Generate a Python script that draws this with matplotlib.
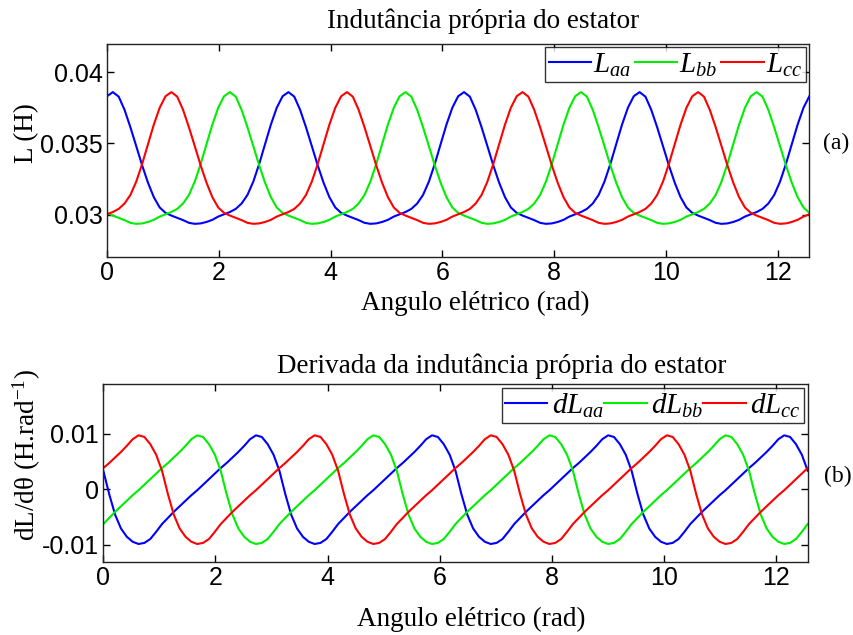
import numpy as np
import matplotlib
matplotlib.use("Agg")
import matplotlib.pyplot as plt

plt.rcParams['font.family'] = ['Liberation Sans', 'DejaVu Sans']
plt.rcParams['mathtext.fontset'] = 'custom'
plt.rcParams['mathtext.rm'] = 'Liberation Serif'
plt.rcParams['mathtext.it'] = 'Liberation Serif:italic'

# electrical angle samples, 30 per half turn (pi), over 0..4*pi
theta = np.linspace(0, 4 * np.pi, 121)

# self inductances (H)
L_aa = [.03831,
        .03860, .03828, .03735, .03613, .03480, .03346, .03224, .03122, .03050, .03012, .02993, .02977, .02961, .02942, .02935,
        .02938, .02948, .02963, .02986, .03002, .03018, .03040, .03078, .03138, .03232, .03355, .03494, .03632, .03750, .03831,
        .03860, .03828, .03735, .03613, .03480, .03346, .03224, .03122, .03050, .03012, .02993, .02977, .02961, .02942, .02935,
        .02938, .02948, .02963, .02986, .03002, .03018, .03040, .03078, .03138, .03232, .03355, .03494, .03632, .03750, .03831,
        .03860, .03828, .03735, .03613, .03480, .03346, .03224, .03122, .03050, .03012, .02993, .02977, .02961, .02942, .02935,
        .02938, .02948, .02963, .02986, .03002, .03018, .03040, .03078, .03138, .03232, .03355, .03494, .03632, .03750, .03831,
        .03860, .03828, .03735, .03613, .03480, .03346, .03224, .03122, .03050, .03012, .02993, .02977, .02961, .02942, .02935,
        .02938, .02948, .02963, .02986, .03002, .03018, .03040, .03078, .03138, .03232, .03355, .03494, .03632, .03750, .03831]

L_bb = [.03012, .02993, .02977, .02961, .02942, .02935,
        .02938, .02948, .02963, .02986, .03002, .03018, .03040, .03078, .03138, .03232, .03355, .03494, .03632, .03750, .03831,
        .03860, .03828, .03735, .03613, .03480, .03346, .03224, .03122, .03050, .03012, .02993, .02977, .02961, .02942, .02935,
        .02938, .02948, .02963, .02986, .03002, .03018, .03040, .03078, .03138, .03232, .03355, .03494, .03632, .03750, .03831,
        .03860, .03828, .03735, .03613, .03480, .03346, .03224, .03122, .03050, .03012, .02993, .02977, .02961, .02942, .02935,
        .02938, .02948, .02963, .02986, .03002, .03018, .03040, .03078, .03138, .03232, .03355, .03494, .03632, .03750, .03831,
        .03860, .03828, .03735, .03613, .03480, .03346, .03224, .03122, .03050, .03012, .02993, .02977, .02961, .02942, .02935,
        .02938, .02948, .02963, .02986, .03002, .03018, .03040, .03078, .03138, .03232, .03355, .03494, .03632, .03750, .03831,
        .03860, .03828, .03735, .03613, .03480, .03346, .03224, .03122, .03050, .03012]

L_cc = [.03002, .03018, .03040, .03078, .03138, .03232, .03355, .03494, .03632, .03750, .03831,
        .03860, .03828, .03735, .03613, .03480, .03346, .03224, .03122, .03050, .03012, .02993, .02977, .02961, .02942, .02935,
        .02938, .02948, .02963, .02986, .03002, .03018, .03040, .03078, .03138, .03232, .03355, .03494, .03632, .03750, .03831,
        .03860, .03828, .03735, .03613, .03480, .03346, .03224, .03122, .03050, .03012, .02993, .02977, .02961, .02942, .02935,
        .02938, .02948, .02963, .02986, .03002, .03018, .03040, .03078, .03138, .03232, .03355, .03494, .03632, .03750, .03831,
        .03860, .03828, .03735, .03613, .03480, .03346, .03224, .03122, .03050, .03012, .02993, .02977, .02961, .02942, .02935,
        .02938, .02948, .02963, .02986, .03002, .03018, .03040, .03078, .03138, .03232, .03355, .03494, .03632, .03750, .03831,
        .03860, .03828, .03735, .03613, .03480, .03346, .03224, .03122, .03050, .03012, .02993, .02977, .02961, .02942, .02935,
        .02938, .02948, .02963, .02986, .03002]

# derivatives dL/dtheta (H/rad)
dL_aa = [.0033, -.0009, -.0046, -.0071, -.0086, -.0095, -.0099, -.0097, -.0090, -.0077, -.0063, -.0052, -.0041, -.0031, -.0021,
         -.0011, -.0002, .0008, .0018, .0028, .0038, .0047, .0057, .0067, .0078, .0090, .0097, .0094, .0081, .0062,
         .0033, -.0009, -.0046, -.0071, -.0086, -.0095, -.0099, -.0097, -.0090, -.0077, -.0063, -.0052, -.0041, -.0031, -.0021,
         -.0011, -.0002, .0008, .0018, .0028, .0038, .0047, .0057, .0067, .0078, .0090, .0097, .0094, .0081, .0062,
         .0033, -.0009, -.0046, -.0071, -.0086, -.0095, -.0099, -.0097, -.0090, -.0077, -.0063, -.0052, -.0041, -.0031, -.0021,
         -.0011, -.0002, .0008, .0018, .0028, .0038, .0047, .0057, .0067, .0078, .0090, .0097, .0094, .0081, .0062,
         .0033, -.0009, -.0046, -.0071, -.0086, -.0095, -.0099, -.0097, -.0090, -.0077, -.0063, -.0052, -.0041, -.0031, -.0021,
         -.0011, -.0002, .0008, .0018, .0028, .0038, .0047, .0057, .0067, .0078, .0090, .0097, .0094, .0081, .0062,
         .0033]

dL_bb = [-.0063, -.0052, -.0041, -.0031, -.0021,
         -.0011, -.0002, .0008, .0018, .0028, .0038, .0047, .0057, .0067, .0078, .0090, .0097, .0094, .0081, .0062,
         .0033, -.0009, -.0046, -.0071, -.0086, -.0095, -.0099, -.0097, -.0090, -.0077, -.0063, -.0052, -.0041, -.0031, -.0021,
         -.0011, -.0002, .0008, .0018, .0028, .0038, .0047, .0057, .0067, .0078, .0090, .0097, .0094, .0081, .0062,
         .0033, -.0009, -.0046, -.0071, -.0086, -.0095, -.0099, -.0097, -.0090, -.0077, -.0063, -.0052, -.0041, -.0031, -.0021,
         -.0011, -.0002, .0008, .0018, .0028, .0038, .0047, .0057, .0067, .0078, .0090, .0097, .0094, .0081, .0062,
         .0033, -.0009, -.0046, -.0071, -.0086, -.0095, -.0099, -.0097, -.0090, -.0077, -.0063, -.0052, -.0041, -.0031, -.0021,
         -.0011, -.0002, .0008, .0018, .0028, .0038, .0047, .0057, .0067, .0078, .0090, .0097, .0094, .0081, .0062,
         .0033, -.0009, -.0046, -.0071, -.0086, -.0095, -.0099, -.0097, -.0090, -.0077, -.0063]

dL_cc = [.0038, .0047, .0057, .0067, .0078, .0090, .0097, .0094, .0081, .0062,
         .0033, -.0009, -.0046, -.0071, -.0086, -.0095, -.0099, -.0097, -.0090, -.0077, -.0063, -.0052, -.0041, -.0031, -.0021,
         -.0011, -.0002, .0008, .0018, .0028, .0038, .0047, .0057, .0067, .0078, .0090, .0097, .0094, .0081, .0062,
         .0033, -.0009, -.0046, -.0071, -.0086, -.0095, -.0099, -.0097, -.0090, -.0077, -.0063, -.0052, -.0041, -.0031, -.0021,
         -.0011, -.0002, .0008, .0018, .0028, .0038, .0047, .0057, .0067, .0078, .0090, .0097, .0094, .0081, .0062,
         .0033, -.0009, -.0046, -.0071, -.0086, -.0095, -.0099, -.0097, -.0090, -.0077, -.0063, -.0052, -.0041, -.0031, -.0021,
         -.0011, -.0002, .0008, .0018, .0028, .0038, .0047, .0057, .0067, .0078, .0090, .0097, .0094, .0081, .0062,
         .0033, -.0009, -.0046, -.0071, -.0086, -.0095, -.0099, -.0097, -.0090, -.0077, -.0063, -.0052, -.0041, -.0031, -.0021,
         -.0011, -.0002, .0008, .0018, .0028, .0038]

top_labels = [r'$L_{aa}$', r'$L_{bb}$', r'$L_{cc}$']
bot_labels = [r'$dL_{aa}$', r'$dL_{bb}$', r'$dL_{cc}$']
colors = ['#0000ff', '#00ee00', '#ff0000']

serif = 'Liberation Serif'


def style_axis(ax):
    ax.tick_params(direction='in', top=True, right=True, length=5, width=1, pad=3,
                   labelsize=18)
    for sp in ax.spines.values():
        sp.set_linewidth(1.0)
        sp.set_color('#222222')


def add_legend(ax, labels, hl, htp, cs):
    leg = ax.legend(labels=labels, loc='upper right', ncol=3, fontsize=21, frameon=True,
                    fancybox=False, handlelength=hl, handletextpad=htp, columnspacing=cs,
                    borderpad=0.12, borderaxespad=0.12)
    leg.get_frame().set_edgecolor('black')
    leg.get_frame().set_linewidth(1.0)
    return leg


fig = plt.figure(figsize=(8.54, 6.35), dpi=100)

# (a) self inductance
ax1 = fig.add_axes([0.1253, 0.5948, 0.8224, 0.3364])
for y, c in zip([L_aa, L_bb, L_cc], colors):
    ax1.plot(theta, y, color=c, lw=1.5)
ax1.set_xlim(0, 4 * np.pi)
ax1.set_ylim(0.027, 0.042)
ax1.set_xticks([0, 2, 4, 6, 8, 10, 12])
ax1.set_yticks([0.03, 0.035, 0.04])
ax1.set_yticklabels(['0.03', '0.035', '0.04'])
style_axis(ax1)
add_legend(ax1, top_labels, 1.45, 0.08, 0.12)

# (b) derivative
ax2 = fig.add_axes([0.121, 0.1145, 0.8248, 0.2803])
for y, c in zip([dL_aa, dL_bb, dL_cc], colors):
    ax2.plot(theta, y, color=c, lw=1.5)
ax2.set_xlim(0, 4 * np.pi)
ax2.set_ylim(-0.0132, 0.0189)
ax2.set_xticks([0, 2, 4, 6, 8, 10, 12])
ax2.set_yticks([-0.01, 0, 0.01])
ax2.set_yticklabels(['-0.01', '0', '0.01'])
style_axis(ax2)
add_legend(ax2, bot_labels, 1.45, 0.15, 0.0)

# titles, axis labels and panel tags
fig.text(0.566, 0.9559, 'Indutância própria do estator', ha='center', va='baseline',
         fontsize=19.5, family=serif)
fig.text(0.556, 0.5118, 'Angulo elétrico (rad)', ha='center', va='baseline',
         fontsize=19.5, family=serif)
fig.text(0.587, 0.4121, 'Derivada da indutância própria do estator', ha='center', va='baseline',
         fontsize=19.5, family=serif)
fig.text(0.552, 0.0142, 'Angulo elétrico (rad)', ha='center', va='baseline',
         fontsize=19.5, family=serif)
fig.text(0.031, 1 - 133 / 635, 'L (H)', rotation=90, ha='center', va='center',
         fontsize=19.5, family=serif)
fig.text(0.031, 1 - 455 / 635, 'dL/dθ (H.rad$^{-1}$)', rotation=90, ha='center', va='center',
         fontsize=19.5, family=serif)
fig.text(836 / 854, 1 - 143 / 635, '(a)', ha='center', va='center', fontsize=17, family=serif)
fig.text(838 / 854, 1 - 476 / 635, '(b)', ha='center', va='center', fontsize=17, family=serif)

fig.savefig('out.png', dpi=100)
